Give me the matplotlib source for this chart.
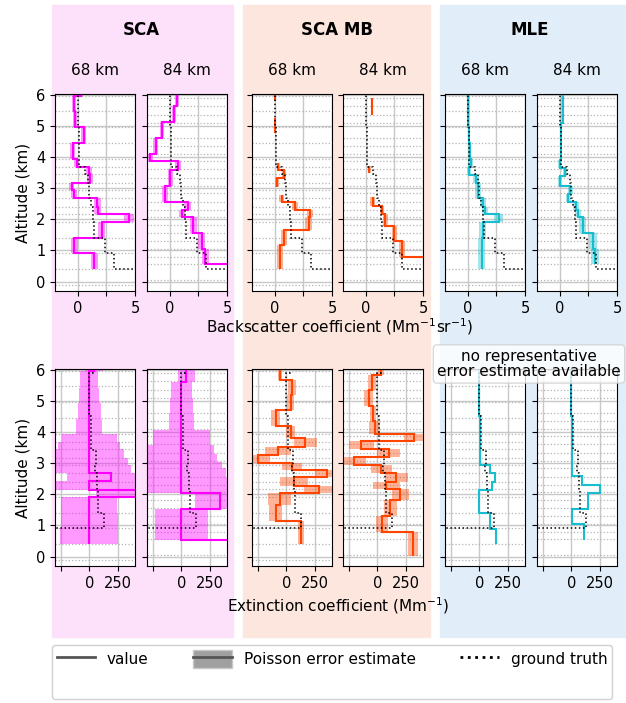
import numpy as np
import matplotlib.pyplot as plt
from matplotlib.patches import Rectangle, Patch
from matplotlib.lines import Line2D

# altitude edges in km, listed from top to bottom; one value per layer
# ---- backscatter (Mm-1 sr-1) ----
gt_bsc_edges = [6.0, 5.0, 3.68, 3.45, 3.17, 2.68, 2.41, 1.91, 1.40, 0.91, 0.40, 0.30]
gt_bsc = [0.0, 0.08, 0.6, 0.9, 1.0, 1.15, 1.3, 1.45, 2.35, 3.15, 6.0]

sca68_bsc_edges = [6.0, 5.95, 5.46, 4.97, 4.45, 3.93, 3.68, 3.45, 3.17, 2.95, 2.68, 2.41, 2.17, 1.91, 1.40, 0.91, 0.40]
sca68_bsc = [0.25, -0.35, -0.25, 0.5, -0.45, -0.1, 0.95, 1.05, -0.55, -0.35, 1.7, 1.75, 4.5, 2.1, -0.3, 1.45]
sca68_bsc_err = [0.2, 0.2, 0.2, 0.22, 0.22, 0.22, 0.25, 0.25, 0.25, 0.25, 0.3, 0.3, 0.45, 0.3, 0.3, 0.3]

sca84_bsc_edges = [6.0, 5.62, 5.11, 4.61, 4.10, 3.86, 3.59, 3.08, 2.57, 2.30, 2.06, 1.55, 1.04, 0.57, 0.40]
sca84_bsc = [0.6, 0.35, -0.7, -1.25, -1.7, 0.7, 0.05, -0.45, 1.55, 1.05, 2.05, 2.8, 3.1, 6.0]
sca84_bsc_err = [0.18, 0.18, 0.2, 0.2, 0.22, 0.25, 0.22, 0.25, 0.28, 0.28, 0.3, 0.3, 0.3, np.nan]

mb68_bsc_edges = [6.0, 5.8, 5.25, 4.77, 3.82, 3.59, 3.32, 3.05, 2.79, 2.54, 2.30, 2.06, 1.66, 1.18, 0.40]
mb68_bsc = [0.0, np.nan, 0.05, np.nan, 0.3, 0.8, 0.15, np.nan, 0.6, 1.75, 3.1, 2.95, 0.8, 0.45]
mb68_bsc_err = [0.08, np.nan, 0.08, np.nan, 0.15, 0.18, 0.18, np.nan, 0.2, 0.25, 0.28, 0.28, 0.25, 0.22]

mb84_bsc_edges = [6.0, 5.89, 5.36, 3.72, 3.48, 2.71, 2.43, 2.17, 1.80, 1.31, 0.80, 0.40]
mb84_bsc = [np.nan, 0.5, np.nan, 0.3, np.nan, 0.6, 1.4, 1.7, 2.5, 3.15, 6.0]
mb84_bsc_err = [np.nan, 0.08, np.nan, 0.15, np.nan, 0.2, 0.2, 0.22, 0.25, 0.25, np.nan]

mle68_bsc_edges = [6.0, 5.47, 4.97, 4.45, 3.93, 3.68, 3.43, 3.16, 2.68, 2.41, 2.16, 1.91, 1.41, 0.40]
mle68_bsc = [0.05, 0.05, 0.1, 0.15, 0.25, 0.1, 0.7, 0.9, 1.35, 1.5, 2.7, 1.3, 1.2]
mle68_bsc_err = [0.1, 0.1, 0.12, 0.15, 0.2, 0.2, 0.25, 0.25, 0.28, 0.28, 0.4, 0.3, 0.3]

mle84_bsc_edges = [6.0, 5.09, 3.91, 3.64, 3.38, 3.08, 2.81, 2.57, 2.30, 2.06, 1.55, 1.04, 0.57]
mle84_bsc = [0.25, 0.1, 0.0, 0.45, 0.0, 0.9, 0.75, 1.4, 1.6, 2.0, 2.9, 3.1]
mle84_bsc_err = [0.12, 0.12, 0.12, 0.18, 0.15, 0.22, 0.22, 0.25, 0.28, 0.3, 0.35, 0.35]

# ---- extinction (Mm-1) ----
gt_ext_edges = [6.0, 5.9, 4.5, 3.42, 2.92, 2.68, 2.15, 1.41, 0.91, 0.80]
gt_ext = [30, 0, 15, 57, 50, 69, 80, 130, -500]

sca68_ext_edges = [6.0, 5.95, 5.4, 4.93, 4.4, 3.93, 3.68, 3.45, 3.18, 2.95, 2.69, 2.42, 2.15, 1.92, 1.41, 0.91, 0.40]
sca68_ext = [43, 0, 0, 0, 0, 0, 0, 0, 0, 0, 187, 0, 700, 0, 0, 0]
sca68_ext_err = [78, 78, 89, 103, 112, 240, 272, 303, 340, 365, 382, 420, 637, 245, 248, 255]

sca84_ext_edges = [6.0, 5.59, 5.1, 4.6, 4.05, 3.57, 3.3, 3.04, 2.83, 2.56, 2.03, 1.52, 0.55, 0.40]
sca84_ext = [43, 0, 0, 0, 0, 0, 0, 0, 0, 0, 336, 0, 700]
sca84_ext_err = [75, 90, 103, 110, 247, 290, 315, 360, 390, 420, 220, 234, np.nan]

mb68_ext_edges = [6.0, 5.68, 5.2, 4.7, 4.2, 3.8, 3.52, 3.26, 3.01, 2.78, 2.54, 2.28, 2.04, 1.67, 1.14, 0.39]
mb68_ext = [-56, 53, 38, -94, 38, 165, -73, -247, 53, 356, 68, 288, -56, -94, 126]
mb68_ext_err = [18, 35, 32, 38, 37, 100, 110, 108, 88, 106, 120, 130, 100, 60, 27]

mb84_ext_edges = [6.0, 5.84, 5.36, 4.83, 4.35, 3.92, 3.71, 3.44, 3.2, 2.93, 2.68, 2.41, 2.17, 1.82, 1.32, 0.79, 0.02]
mb84_ext = [35, -44, -74, -38, -24, 324, -141, 100, -200, 35, 168, 79, 203, 115, 41, 315]
mb84_ext_err = [25, 37, 40, 30, 45, 90, 110, 100, 100, 90, 100, 120, 75, 55, 50, 42]

mle68_ext_edges = [6.0, 4.5, 3.42, 2.93, 2.68, 2.41, 2.15, 1.41, 0.9, 0.39]
mle68_ext = [0, 8, 3, 94, 138, 109, 0, 94, 147]

mle84_ext_edges = [6.0, 4.5, 3.42, 2.58, 2.30, 2.05, 1.54, 1.04, 0.53]
mle84_ext = [0, 5, 3, 97, 250, 147, 6, 109]

# dotted layer boundaries of the two retrieval grids
grid_68 = [5.95, 5.47, 4.97, 4.45, 3.93, 3.68, 3.45, 3.17, 2.95, 2.68, 2.41, 2.17, 1.91, 1.40, 0.91, 0.40, -0.1]
grid_84 = [5.89, 5.62, 5.36, 5.1, 4.61, 4.35, 4.08, 3.86, 3.6, 3.33, 3.08, 2.83, 2.57, 2.3, 2.06,
           1.81, 1.55, 1.31, 1.04, 0.8, 0.56, 0.05]

groups = ['SCA', 'SCA MB', 'MLE']
ranges = ['68 km', '84 km']
colors = ['#ff00ff', '#ff4500', '#17becf']
bg_colors = ['#fde0fa', '#fde6de', '#e1edf8']

top_data = [(sca68_bsc_edges, sca68_bsc, sca68_bsc_err), (sca84_bsc_edges, sca84_bsc, sca84_bsc_err),
            (mb68_bsc_edges, mb68_bsc, mb68_bsc_err), (mb84_bsc_edges, mb84_bsc, mb84_bsc_err),
            (mle68_bsc_edges, mle68_bsc, mle68_bsc_err), (mle84_bsc_edges, mle84_bsc, mle84_bsc_err)]
bot_data = [(sca68_ext_edges, sca68_ext, sca68_ext_err), (sca84_ext_edges, sca84_ext, sca84_ext_err),
            (mb68_ext_edges, mb68_ext, mb68_ext_err), (mb84_ext_edges, mb84_ext, mb84_ext_err),
            (mle68_ext_edges, mle68_ext, None), (mle84_ext_edges, mle84_ext, None)]


def draw_panel(ax, edges, vals, errs, color, gt_edges, gt_vals, grid):
    e = np.array(edges, float)[::-1]
    v = np.array(vals, float)[::-1]
    if errs is not None:
        er = np.array(errs, float)[::-1]
        ok = ~np.isnan(er) & ~np.isnan(v)
        ax.barh(((e[:-1] + e[1:]) / 2)[ok], (2 * er)[ok], height=np.diff(e)[ok],
                left=(v - er)[ok], color=color, alpha=0.4, lw=0, zorder=2)
    ax.stairs(v, e, orientation='horizontal', baseline=None, color=color, lw=1.5, zorder=3)
    ge = np.array(gt_edges, float)[::-1]
    gv = np.array(gt_vals, float)[::-1]
    ax.stairs(gv, ge, orientation='horizontal', baseline=None, color='k', ls=':', lw=1.1, zorder=4)
    ax.set_ylim(-0.3, 6.02)
    ax.set_yticks(range(7))
    ax.set_yticks(grid, minor=True)
    ax.grid(True, which='major', color='#c8c8c8', lw=1.0, zorder=0)
    ax.grid(True, which='minor', axis='y', color='#b4b4b4', ls=':', lw=0.9, zorder=0)
    ax.tick_params(which='minor', length=0)
    ax.tick_params(labelsize=10.5)
    ax.set_axisbelow(True)


fig = plt.figure(figsize=(6.26, 7.03), dpi=100)

# coloured group backgrounds
bg_x = [(52, 233), (243, 430), (440, 626)]
for (x0, x1), c in zip(bg_x, bg_colors):
    fig.patches.append(Rectangle((x0 / 626, 1 - 637 / 703), (x1 - x0) / 626, 632 / 703,
                                 transform=fig.transFigure, color=c, zorder=-1))

lefts = [55, 147, 252, 343, 445, 537]
W = 626
H = 703
for i in range(6):
    c = colors[i // 2]
    grid = grid_68 if i % 2 == 0 else grid_84
    ax = fig.add_axes([lefts[i] / W, 1 - 291 / H, 80 / W, 197 / H])
    ed, va, er = top_data[i]
    draw_panel(ax, ed, va, er, c, gt_bsc_edges, gt_bsc, grid)
    ax.set_xlim(-2, 5)
    ax.set_xticks([0, 2.5, 5])
    ax.set_xticklabels(['0', '', '5'])
    ax.set_title(ranges[i % 2], fontsize=11, pad=14)
    if i == 0:
        ax.set_ylabel('Altitude (km)', fontsize=11)
    else:
        ax.set_yticklabels([])

    ax = fig.add_axes([lefts[i] / W, 1 - 566 / H, 80 / W, 197 / H])
    ed, va, er = bot_data[i]
    draw_panel(ax, ed, va, er, c, gt_ext_edges, gt_ext, grid)
    ax.set_xlim(-300, 400)
    ax.set_xticks([-250, 0, 250])
    ax.set_xticklabels(['', '0', '250'])
    if i == 0:
        ax.set_ylabel('Altitude (km)', fontsize=11)
    else:
        ax.set_yticklabels([])

for g, x in zip(groups, [141, 337, 530]):
    fig.text(x / W, 1 - 30 / H, g, fontsize=12, fontweight='bold', ha='center', va='center')

fig.text(340 / W, 1 - 327 / H, 'Backscatter coefficient (Mm$^{-1}$sr$^{-1}$)', fontsize=11,
         ha='center', va='center')
fig.text(338 / W, 1 - 606 / H, 'Extinction coefficient (Mm$^{-1}$)', fontsize=11,
         ha='center', va='center')

fig.text(529 / W, 1 - 364 / H, 'no representative\nerror estimate available', fontsize=11,
         ha='center', va='center', linespacing=1.05,
         bbox=dict(boxstyle='round,pad=0.25', facecolor='white', alpha=0.8, edgecolor='#d0d0d0'))

h_val = Line2D([], [], color='#555555', lw=2)
h_err = (Patch(facecolor='#a0a0a0', edgecolor='#c8c8c8'), Line2D([], [], color='#555555', lw=2))
h_gt = Line2D([], [], color='k', ls=':', lw=2)
h_empty = Line2D([], [], alpha=0)
fig.legend([h_val, h_empty, h_err, h_gt], ['value', ' ', 'Poisson error estimate', 'ground truth'],
           ncol=3, loc='upper left', bbox_to_anchor=(52 / W, 1 - 645 / H, 560 / W, 0),
           mode='expand', fontsize=11, handlelength=2.5, handleheight=1.5, borderaxespad=0,
           borderpad=0.3, fancybox=True, edgecolor='#d0d0d0', framealpha=1)

fig.savefig('out.png', dpi=100)
